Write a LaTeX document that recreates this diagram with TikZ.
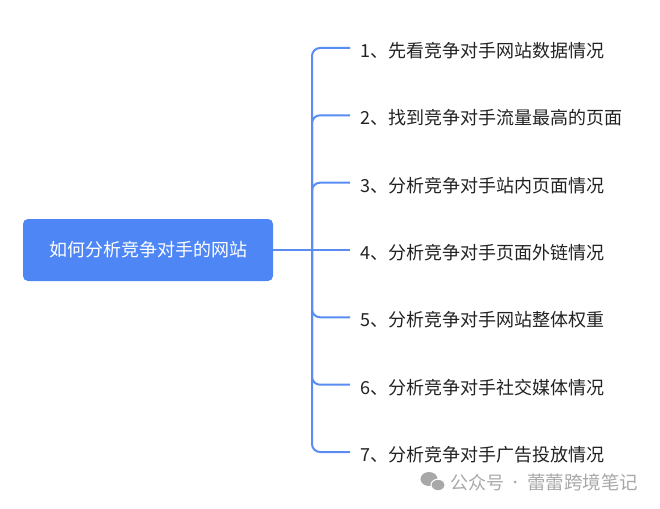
\documentclass[tikz,border=0pt]{standalone}
\usepackage{fontspec}
\setmainfont{Noto Sans CJK SC}
\definecolor{rootblue}{HTML}{4E86F6}
\definecolor{lineblue}{HTML}{5A8CF5}
\definecolor{txt}{HTML}{222222}
\definecolor{wm}{HTML}{A8A8A8}
\tikzset{
  rootbox/.style={fill=rootblue, rounded corners=5pt, minimum width=250pt, minimum height=62pt, text=white, font=\fontsize{18}{21}\selectfont, inner sep=0pt},
  childtext/.style={anchor=west, inner sep=0pt, text=txt, font=\fontsize{18}{21}\selectfont},
  branch/.style={draw=lineblue, line width=2pt, rounded corners=8pt},
  wmtext/.style={anchor=west, inner sep=0pt, text=wm, font=\fontsize{18}{21}\selectfont},
}
\begin{document}
\begin{tikzpicture}[x=1pt,y=-1pt]
\useasboundingbox (0,0) rectangle (660,508);
\node[rootbox] (root) at (148,250) {如何分析竞争对手的网站};
\coordinate (hub) at (312,250);
\node[childtext] (c1) at (360,50.5) {1、先看竞争对手网站数据情况};
\node[childtext] (c2) at (360,117.8) {2、找到竞争对手流量最高的页面};
\node[childtext] (c3) at (360,185.2) {3、分析竞争对手站内页面情况};
\node[childtext] (c4) at (360,252.5) {4、分析竞争对手页面外链情况};
\node[childtext] (c5) at (360,319.8) {5、分析竞争对手网站整体权重};
\node[childtext] (c6) at (360,387.2) {6、分析竞争对手社交媒体情况};
\node[childtext] (c7) at (360,454.5) {7、分析竞争对手广告投放情况};
\coordinate (e1) at (350,48);
\coordinate (e2) at (350,115.3);
\coordinate (e3) at (350,182.7);
\coordinate (e4) at (350,250);
\coordinate (e5) at (350,317.3);
\coordinate (e6) at (350,384.7);
\coordinate (e7) at (350,452);
\draw[branch] (root.east) -- (e4);
\foreach \i in {1,2,3,5,6,7} {
  \draw[branch] (hub) |- (e\i);
}
% watermark
\fill[wm] (429,479) ellipse (8.5pt and 7pt);
\fill[wm, draw=white, line width=1pt] (438,485) ellipse (7pt and 5.8pt);
\node[wmtext] (wm1) at (450,482.5) {公众号};
\fill[wm] (515,482) circle (1.5pt);
\node[wmtext, font=\fontsize{18.5}{21}\selectfont] (wm2) at (527,482.5) {蕾蕾跨境笔记};
\end{tikzpicture}
\end{document}
